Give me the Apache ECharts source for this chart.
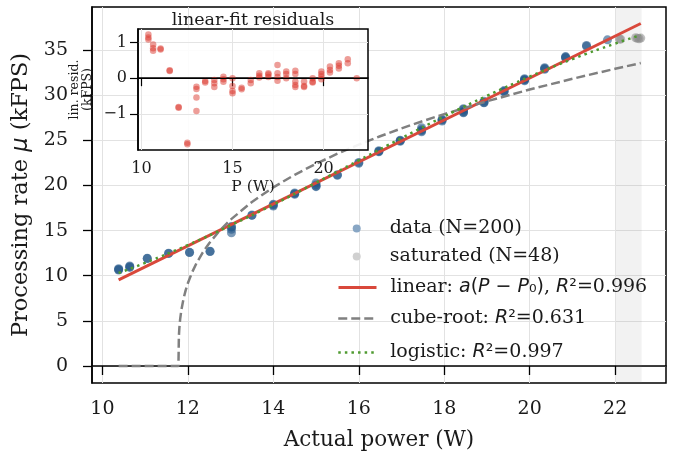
<!DOCTYPE html>
<html>
<head>
<meta charset="utf-8">
<script src="https://cdn.jsdelivr.net/npm/echarts@6.0.0/dist/echarts.min.js"></script>
<style>
html,body{margin:0;padding:0;background:#ffffff;}
#chart{width:678px;height:458px;}
</style>
</head>
<body>
<div id="chart"></div>
<script>
// ---------------- data ----------------
const levelPower = [10.38,10.64,11.05,11.55,12.04,12.52,13.02,13.5,14.0,14.5,15.0,15.5,16.0,16.47,16.97,17.47,17.95,18.45,18.93,19.4,19.88,20.35,20.84,21.33,21.82];
const rateReadings = [[10.77,10.69,10.63],[11.09,10.99,10.92],[11.93,11.90],[12.47,12.49],[12.57,12.59],[12.71,12.67],[15.44,15.38,15.14,14.76],[16.72,16.68],[17.91,17.82,17.71],[19.16,19.09,19.02],[20.28,20.06,19.92,19.86],[21.17,21.13],[22.55,22.46],[23.84,23.77,23.72],[25.00,24.96,24.89],[26.39,26.16,26.05,25.95],[27.32,27.25,27.13],[28.50,28.41,28.20,28.10,28.04],[29.32,29.19,29.16],[30.50,30.40,30.38],[31.81,31.74,31.67,31.59],[33.04,32.94,32.87],[34.27,34.20,34.12],[35.51,35.40],[36.12]];
const residReadings = [[1.22,1.14,1.08],[0.94,0.84,0.77],[0.83,0.80],[0.20,0.22],[-0.83,-0.81],[-1.81,-1.85],[-0.24,-0.30,-0.54,-0.92],[-0.08,-0.12],[-0.05,-0.14,-0.25],[0.04,-0.03,-0.10],[0.0,-0.22,-0.36,-0.42],[-0.27,-0.31],[-0.05,-0.14],[0.14,0.07,0.02],[0.14,0.10,0.03],[0.37,0.14,0.03,-0.07],[0.19,0.12,0.0],[0.21,0.12,-0.09,-0.19,-0.25],[-0.09,-0.22,-0.25],[0.0,-0.10,-0.12],[0.19,0.12,0.05,-0.03],[0.33,0.23,0.16],[0.42,0.35,0.27],[0.53,0.42],[0.0]];
const satPower = [22.10,22.13,22.48,22.52,22.56,22.60];
const satRate  = [36.22,36.20,36.35,36.30,36.25,36.32];
const satBand  = [22.02,22.62];
const linearP = [10.38,22.60];
const linearV = [9.55,37.93];
const cubeP = [10.38,11.78,11.79,11.80,11.82,11.85,11.90,11.95,12.00,12.10,12.20,12.35,12.50,12.75,13.00,13.50,14.00,14.50,15.00,15.50,16.00,16.50,17.00,17.50,18.00,19.00,20.00,21.00,22.00,22.60];
const cubeV = [0,0,3.27,4.12,5.19,6.25,7.48,8.40,9.16,10.38,11.36,12.58,13.60,15.02,16.21,18.17,19.79,21.18,22.40,23.51,24.52,25.45,26.32,27.13,27.90,29.32,30.62,31.81,32.92,33.55];
const logisticP = [10.38,11,12,13,14,15,16,17,18,19,20,21,22,22.6];
const logisticV = [10.30,11.42,13.40,15.57,17.88,20.30,22.77,25.24,27.64,29.92,32.05,33.99,35.71,36.65];
const mainXTicks = [10,12,14,16,18,20,22];
const mainYTicks = [0,5,10,15,20,25,30,35];
const insetXTicks = [10,15,20];
const insetYTicks = [-1,0,1];

// ---------------- build ----------------
const pairs = (xs, ys) => xs.map((x, i) => [x, ys[i]]);
const dataPts = levelPower.flatMap((p, i) => rateReadings[i].map(v => [p, v]));
const residPts = levelPower.flatMap((p, i) => residReadings[i].map(v => [p, v]));

const serif = "'DejaVu Serif', serif";
const sans = "'DejaVu Sans', sans-serif";
const ink = '#1a1a1a';
const minus = v => (v < 0 ? '\u2212' + Math.abs(v) : String(v));

const mathRich = {
  sp: { width: 9 },
  spd: { width: 24 },
  i: { fontFamily: sans, fontStyle: 'italic', fontSize: 19, color: ink },
  s: { fontFamily: sans, fontSize: 19, color: ink }
};

function legendFor(name, left, centerY, w, h, text, icon, lw) {
  const item = { name: name };
  if (icon) item.itemStyle = icon;
  const lg = {
    show: true, data: [item], left: left, top: centerY - 10,
    itemWidth: w, itemHeight: h, selectedMode: false, padding: 0,
    formatter: () => text,
    textStyle: { fontFamily: serif, fontSize: 19, color: ink, rich: mathRich }
  };
  if (lw) lg.lineStyle = { width: lw };
  return lg;
}
const hideSym = { opacity: 0, color: 'transparent', borderWidth: 0 };

const chart = echarts.init(document.getElementById('chart'), null, { renderer: 'canvas' });
const option = {
  animation: false,
  backgroundColor: '#ffffff',
  grid: [
    { left: 92, top: 7, right: 12, bottom: 75, show: true, backgroundColor: 'transparent', borderColor: '#000', borderWidth: 1.5, z: 0 },
    { left: 138, top: 29, width: 230, height: 121, show: true, backgroundColor: 'rgba(255,255,255,0.9)', borderColor: '#000', borderWidth: 1.5, z: 10 }
  ],
  xAxis: [
    {
      type: 'value', gridIndex: 0, min: 9.757, max: 23.19,
      axisLine: { show: true, lineStyle: { color: '#000', width: 1.5 } },
      axisTick: { show: true, length: 9, customValues: mainXTicks, lineStyle: { color: '#000', width: 1.3 } },
      axisLabel: { customValues: mainXTicks, fontFamily: serif, fontSize: 19, color: ink, margin: 17 },
      splitLine: { show: true, lineStyle: { color: '#e2e2e2', width: 1 } },
      name: 'Actual power (W)', nameLocation: 'middle', nameGap: 46,
      nameTextStyle: { fontFamily: serif, fontSize: 21.5, color: ink }
    },
    {
      type: 'value', gridIndex: 1, min: 9.81, max: 22.44, z: 11,
      axisLine: { show: true, lineStyle: { color: '#000', width: 1.5 } },
      axisTick: { show: true, length: 8, customValues: insetXTicks, lineStyle: { color: '#000', width: 1.2 } },
      axisLabel: { customValues: insetXTicks, fontFamily: serif, fontSize: 16, color: ink, margin: 11 },
      splitLine: { show: true, lineStyle: { color: '#e4e4e4', width: 1 } },
      name: 'P (W)', nameLocation: 'middle', nameGap: 29,
      nameTextStyle: { fontFamily: serif, fontSize: 15.5, color: ink }
    }
  ],
  yAxis: [
    {
      type: 'value', gridIndex: 0, min: -1.88, max: 39.76,
      axisLine: { show: true, lineStyle: { color: '#000', width: 1.5 } },
      axisTick: { show: true, length: 9, customValues: mainYTicks, lineStyle: { color: '#000', width: 1.3 } },
      axisLabel: { customValues: mainYTicks, fontFamily: serif, fontSize: 19, color: ink, margin: 24 },
      splitLine: { show: true, lineStyle: { color: '#e2e2e2', width: 1 } },
      name: 'Processing rate {m|\u03bc} (kFPS)', nameLocation: 'middle', nameGap: 56,
      nameTextStyle: { fontFamily: serif, fontSize: 22.5, color: ink,
        rich: { m: { fontFamily: sans, fontStyle: 'italic', fontSize: 22.5, color: ink } } }
    },
    {
      type: 'value', gridIndex: 1, min: -2.01, max: 1.376, z: 11,
      axisLine: { show: true, lineStyle: { color: '#000', width: 1.5 } },
      axisTick: { show: true, length: 8, customValues: insetYTicks, lineStyle: { color: '#000', width: 1.2 } },
      axisLabel: { customValues: insetYTicks, fontFamily: serif, fontSize: 16, color: ink, margin: 11, formatter: minus },
      splitLine: { show: true, lineStyle: { color: '#e4e4e4', width: 1 } },
      name: 'lin. resid.\n(kFPS)', nameLocation: 'middle', nameGap: 44,
      nameTextStyle: { fontFamily: serif, fontSize: 12.5, color: ink, lineHeight: 13 }
    }
  ],
  legend: [
    legendFor('data (N=200)', 352.7, 229, 8, 20, '{spd| }data (N=200)', { color: '#88a6c4', opacity: 1 }),
    legendFor('saturated (N=48)', 352.7, 257, 8, 20, '{spd| }saturated (N=48)', { color: '#d0d0d0', opacity: 1 }),
    legendFor('linear', 337, 288, 38, 20, '{sp| }linear: {i|a}{s|(}{i|P}{s| \u2212 }{i|P}{s|\u2080)}, {i|R}{s|\u00b2}=0.996', hideSym, 3),
    legendFor('cube-root', 337, 319, 38, 20, '{sp| }cube-root: {i|R}{s|\u00b2}=0.631', hideSym, 2.5),
    legendFor('logistic', 337, 353, 38, 20, '{sp| }logistic: {i|R}{s|\u00b2}=0.997', hideSym, 2.5)
  ],
  graphic: [
    { type: 'text', x: 253, y: 20, z: 20,
      style: { text: 'linear-fit residuals', font: "17.5px 'DejaVu Serif', serif", fill: ink, textAlign: 'center', textVerticalAlign: 'middle' } }
  ],
  series: [
    {
      name: 'data (N=200)', type: 'scatter', xAxisIndex: 0, yAxisIndex: 0, z: 3,
      data: dataPts, symbol: 'circle', symbolSize: 9,
      itemStyle: { color: 'rgba(35,86,137,0.75)' }
    },
    {
      name: 'saturated (N=48)', type: 'scatter', xAxisIndex: 0, yAxisIndex: 0, z: 3,
      data: pairs(satPower, satRate), symbol: 'circle', symbolSize: 9,
      itemStyle: { color: 'rgba(135,135,135,0.65)' },
      markArea: { silent: true, z: 1, itemStyle: { color: 'rgba(128,128,128,0.1)', borderWidth: 0 },
        data: [[{ xAxis: satBand[0] }, { xAxis: satBand[1] }]] }
    },
    {
      name: 'linear', type: 'line', xAxisIndex: 0, yAxisIndex: 0, z: 4,
      data: pairs(linearP, linearV), symbol: 'none', showSymbol: false,
      lineStyle: { color: '#d9483b', width: 3 }, itemStyle: { color: '#d9483b' }
    },
    {
      name: 'cube-root', type: 'line', xAxisIndex: 0, yAxisIndex: 0, z: 4,
      data: pairs(cubeP, cubeV), symbol: 'none', showSymbol: false,
      lineStyle: { color: '#808080', width: 2.5, type: [9, 4], cap: 'butt' }, itemStyle: { color: '#808080' }
    },
    {
      name: 'logistic', type: 'line', xAxisIndex: 0, yAxisIndex: 0, z: 5,
      data: pairs(logisticP, logisticV), symbol: 'none', showSymbol: false, smooth: true,
      lineStyle: { color: '#4f9a30', width: 2.5, type: [2.5, 4.1], cap: 'butt' }, itemStyle: { color: '#4f9a30' }
    },
    {
      name: 'residuals', type: 'scatter', xAxisIndex: 1, yAxisIndex: 1, z: 12,
      data: residPts, symbol: 'circle', symbolSize: 6.5,
      itemStyle: { color: 'rgba(218,50,40,0.6)' },
      markLine: { silent: true, z: 13, symbol: ['none', 'none'], label: { show: false },
        lineStyle: { color: '#000', width: 1.2, type: 'solid' }, data: [{ yAxis: 0 }] }
    }
  ]
};
chart.setOption(option);
</script>
</body>
</html>
